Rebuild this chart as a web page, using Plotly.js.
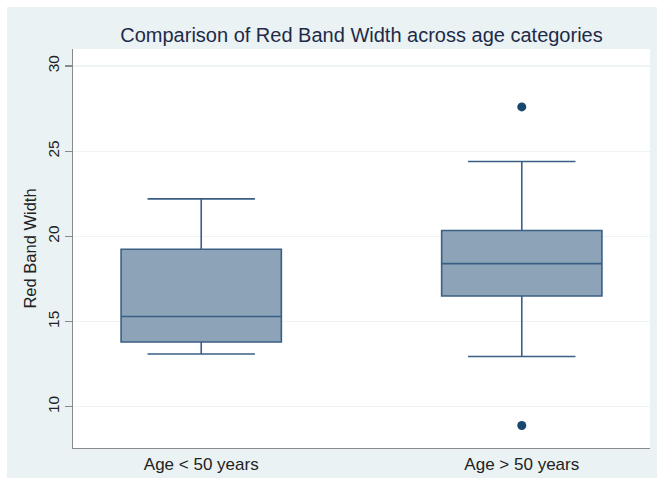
<!DOCTYPE html>
<html>
<head>
<meta charset="utf-8">
<script src="https://cdn.plot.ly/plotly-3.0.1.min.js"></script>
<style>
  html, body { margin: 0; padding: 0; background: #ffffff; }
  #chart { position: absolute; left: 7px; top: 7px; width: 650px; height: 471px; }
</style>
</head>
<body>
<div id="chart"></div>
<script>
// Data
var categories = ['Age < 50 years', 'Age > 50 years'];
var lowerFence = [13.1, 12.95];
var q1 = [13.8, 16.5];
var median = [15.3, 18.4];
var q3 = [19.25, 20.35];
var upperFence = [22.2, 24.4];
var outlierCats = ['Age > 50 years', 'Age > 50 years'];
var outlierVals = [27.6, 8.9];
var yTicks = [10, 15, 20, 25, 30];

var fontFam = 'Liberation Sans, Arial, Helvetica, sans-serif';

var boxTrace = {
  type: 'box',
  x: categories,
  q1: q1,
  median: median,
  q3: q3,
  lowerfence: lowerFence,
  upperfence: upperFence,
  boxpoints: false,
  width: 0.5,
  whiskerwidth: 0.67,
  fillcolor: '#8ca3b8',
  line: { color: '#3a5f85', width: 1.6 },
  hoverinfo: 'none',
  showlegend: false
};

var outTrace = {
  type: 'scatter',
  mode: 'markers',
  x: outlierCats,
  y: outlierVals,
  marker: { color: '#1a476f', size: 9 },
  hoverinfo: 'none',
  showlegend: false
};

var layout = {
  width: 650,
  height: 471,
  paper_bgcolor: '#eaf2f3',
  plot_bgcolor: '#ffffff',
  margin: { l: 66, r: 7, t: 42, b: 30 },
  font: { family: fontFam, color: '#222222' },
  title: {
    text: 'Comparison of Red Band Width across age categories',
    font: { family: fontFam, size: 20, color: '#1e2a48' },
    xref: 'paper', x: 0.5, xanchor: 'center',
    yref: 'container', y: 0.94, yanchor: 'middle'
  },
  xaxis: {
    type: 'category',
    range: [-0.4, 1.4],
    showgrid: false,
    zeroline: false,
    showline: true,
    linecolor: '#8a8a8a',
    linewidth: 1.2,
    ticks: '',
    tickfont: { family: fontFam, size: 17, color: '#222222' },
    fixedrange: true
  },
  yaxis: {
    range: [7.58, 31.0],
    tickvals: yTicks,
    ticktext: yTicks.map(String),
    tickangle: -90,
    ticks: 'outside',
    ticklen: 7,
    tickcolor: '#8a8a8a',
    tickwidth: 1.2,
    showline: true,
    linecolor: '#8a8a8a',
    linewidth: 1.2,
    showgrid: true,
    gridcolor: '#eef4f5',
    gridwidth: 1.2,
    zeroline: false,
    tickfont: { family: fontFam, size: 15.5, color: '#222222' },
    title: {
      text: 'Red Band Width',
      font: { family: fontFam, size: 16.5, color: '#222222' },
      standoff: 3
    },
    fixedrange: true
  }
};

Plotly.newPlot('chart', [boxTrace, outTrace], layout, { displayModeBar: false, staticPlot: true });
</script>
</body>
</html>
